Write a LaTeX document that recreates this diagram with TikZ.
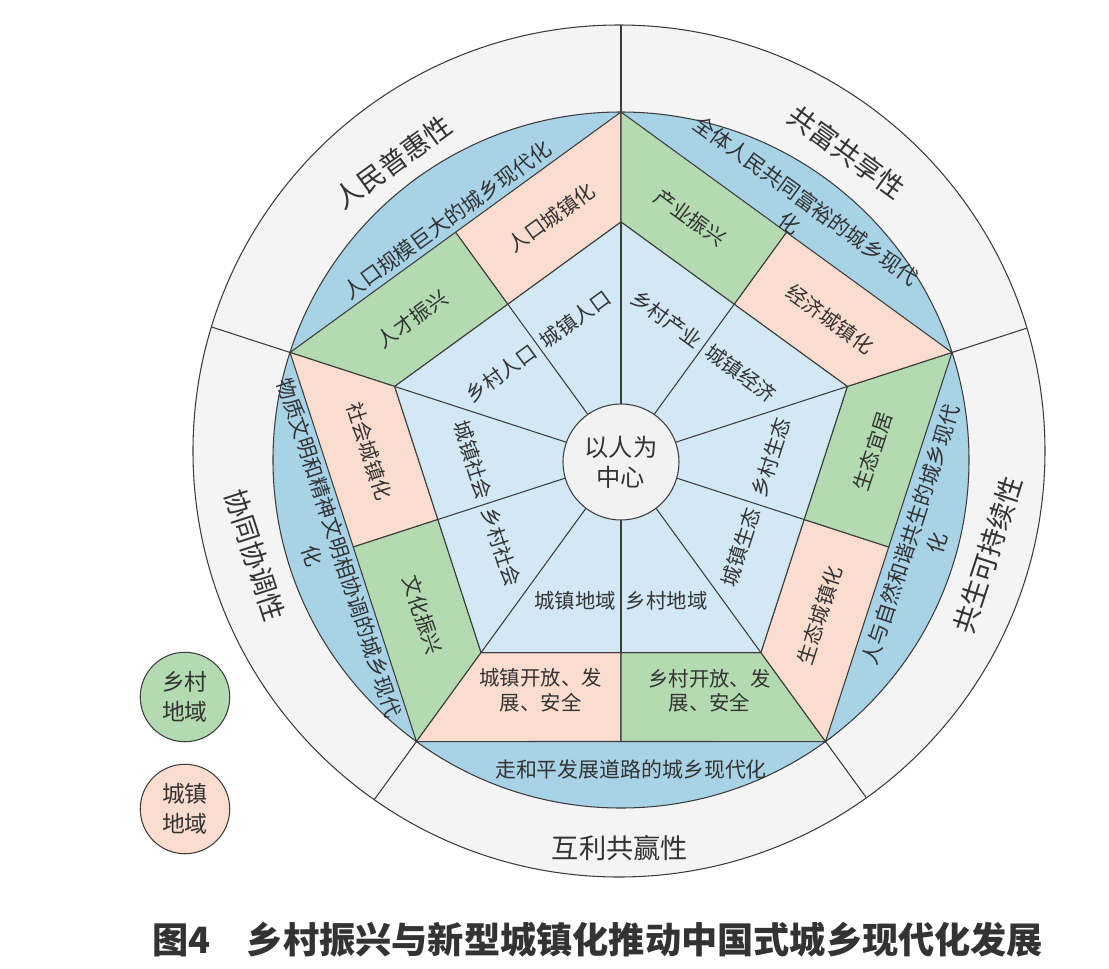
\documentclass[tikz,border=0pt]{standalone}
\usepackage{fontspec}
\setmainfont{Noto Sans CJK SC}
\definecolor{ringgray}{HTML}{F4F4F4}
\definecolor{bandblue}{HTML}{A8D2E6}
\definecolor{coreblue}{HTML}{D2E8F4}
\definecolor{ruralgreen}{HTML}{B3DAB0}
\definecolor{urbanpink}{HTML}{FBDDD0}
\definecolor{hubgray}{HTML}{F2F2F2}
\definecolor{edge}{HTML}{3C3C3C}
\definecolor{txt}{HTML}{333333}
\begin{document}
\begin{tikzpicture}[x=0.02cm, y=0.02cm, line width=0.6pt,
	lbl/.style = {text=txt, font=\fontsize{11.6}{14}\selectfont, align=center, inner sep=0pt},
	band/.style = {text=txt, font=\fontsize{11.9}{16}\selectfont, align=center, inner sep=0pt},
	ring/.style = {text=txt, font=\fontsize{15.5}{18}\selectfont, inner sep=0pt},
	urbanpart/.style = {fill=urbanpink, draw=edge},
	ruralpart/.style = {fill=ruralgreen, draw=edge}]
	\useasboundingbox (-621,-508) rectangle (488,460);
	\fill[white] (-621,-508) rectangle (488,460);
	% outer ring
	\filldraw[fill=ringgray, draw=edge] (-2,9) circle (426);
	\begin{scope}
	\clip (-2,9) circle (426);
	\draw[edge] (90:348) -- (90:460);
	\draw[edge] (162:348) -- (162:460);
	\draw[edge] (234:348) -- (234:460);
	\draw[edge] (306:348) -- (306:460);
	\draw[edge] (18:348) -- (18:460);
	\end{scope}
	\filldraw[fill=bandblue, draw=edge] (0,0) circle (348);
	% pentagon ring, town half first, village half second
	\filldraw[urbanpart] (90:348) -- (126:281.5) -- (126:192.5) -- (90:238) -- cycle;
	\filldraw[ruralpart] (126:281.5) -- (162:348) -- (162:238) -- (126:192.5) -- cycle;
	\filldraw[urbanpart] (162:348) -- (198:281.5) -- (198:192.5) -- (162:238) -- cycle;
	\filldraw[ruralpart] (198:281.5) -- (234:348) -- (234:238) -- (198:192.5) -- cycle;
	\filldraw[urbanpart] (234:348) -- (270:281.5) -- (270:192.5) -- (234:238) -- cycle;
	\filldraw[ruralpart] (270:281.5) -- (306:348) -- (306:238) -- (270:192.5) -- cycle;
	\filldraw[urbanpart] (306:348) -- (342:281.5) -- (342:192.5) -- (306:238) -- cycle;
	\filldraw[ruralpart] (342:281.5) -- (18:348) -- (18:238) -- (342:192.5) -- cycle;
	\filldraw[urbanpart] (18:348) -- (54:281.5) -- (54:192.5) -- (18:238) -- cycle;
	\filldraw[ruralpart] (54:281.5) -- (90:348) -- (90:238) -- (54:192.5) -- cycle;
	% inner pentagon
	\filldraw[fill=coreblue, draw=edge] (90:238) -- (162:238) -- (234:238) -- (306:238) -- (18:238) -- cycle;
	\draw[edge] (0,0) -- (90:238);
	\draw[edge] (0,0) -- (126:192.5);
	\draw[edge] (0,0) -- (162:238);
	\draw[edge] (0,0) -- (198:192.5);
	\draw[edge] (0,0) -- (234:238);
	\draw[edge] (0,0) -- (270:192.5);
	\draw[edge] (0,0) -- (306:238);
	\draw[edge] (0,0) -- (342:192.5);
	\draw[edge] (0,0) -- (18:238);
	\draw[edge] (0,0) -- (54:192.5);
	\node[circle, draw=edge, fill=hubgray, minimum size=2.32cm, text=txt, align=center,
		font=\fontsize{13.8}{17}\selectfont] (hub) at (0,-2) {以人为\\中心};
	% outer ring texts
	\node[ring, rotate=36] (inclusive) at (-228,298) {人民普惠性};
	\node[ring, rotate=-36] (sharing) at (226,308) {共富共享性};
	\node[ring, rotate=72] (sustain) at (367,-95) {共生可持续性};
	\node[ring] (winwin) at (-1,-388) {互利共赢性};
	\node[ring, rotate=-72] (coord) at (-366,-95) {协同协调性};
	% blue band texts
	\node[band, rotate=36] (scale) at (-174,240) {人口规模巨大的城乡现代化};
	\node[band, rotate=-36] (prosper) at (177,248) {全体人民共同富裕的城乡现代\\化};
	\node[band, rotate=72] (nature) at (303,-79) {人与自然和谐共生的城乡现代\\化};
	\node[band] (peace) at (10,-310) {走和平发展道路的城乡现代化};
	\node[band, rotate=-72] (civil) at (-295,-92) {物质文明和精神文明相协调的城乡现代\\化};
	% pentagon ring texts
	\node[lbl, rotate=36] (popurb) at (106:252) {人口城镇化};
	\node[lbl, rotate=36] (talent) at (146:252) {人才振兴};
	\node[lbl, rotate=-72] (socurb) at (178:252) {社会城镇化};
	\node[lbl, rotate=-72] (culture) at (218:252) {文化振兴};
	\node[lbl] (openurb) at (250.8:244) {城镇开放、发\\展、安全};
	\node[lbl] (openrur) at (291:247) {乡村开放、发\\展、安全};
	\node[lbl, rotate=72] (ecourb) at (322:252) {生态城镇化};
	\node[lbl, rotate=72] (ecoliv) at (2:252) {生态宜居};
	\node[lbl, rotate=-36] (econurb) at (34:252) {经济城镇化};
	\node[lbl, rotate=-36] (industry) at (74:252) {产业振兴};
	% inner pentagon texts
	\node[lbl, rotate=36] (upop) at (108:148) {城镇人口};
	\node[lbl, rotate=36] (rpop) at (144:148) {乡村人口};
	\node[lbl, rotate=-72] (usoc) at (180:148) {城镇社会};
	\node[lbl, rotate=-72] (rsoc) at (216:148) {乡村社会};
	\node[lbl] (uarea) at (252:148) {城镇地域};
	\node[lbl] (rarea) at (288:148) {乡村地域};
	\node[lbl, rotate=72] (ueco) at (324:148) {城镇生态};
	\node[lbl, rotate=72] (reco) at (1:150) {乡村生态};
	\node[lbl, rotate=-36] (uecon) at (36:148) {城镇经济};
	\node[lbl, rotate=-36] (rind) at (72:148) {乡村产业};
	% legend
	\node[circle, draw=edge, fill=ruralgreen, minimum size=1.79cm, text=txt, align=center,
		font=\fontsize{13}{17}\selectfont] (rural) at (-436,-237) {乡村\\地域};
	\node[circle, draw=edge, fill=urbanpink, minimum size=1.79cm, text=txt, align=center,
		font=\fontsize{13}{17}\selectfont] (urban) at (-436,-349) {城镇\\地域};
	\node[anchor=west, inner sep=0pt, text=txt, font=\fontsize{20.6}{24}\selectfont\bfseries]
		(caption) at (-469,-480) {图4\hspace{1em}乡村振兴与新型城镇化推动中国式城乡现代化发展};
\end{tikzpicture}
\end{document}
